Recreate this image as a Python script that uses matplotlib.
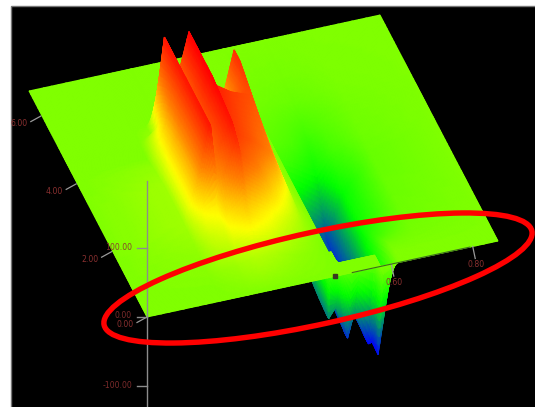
import numpy as np
import matplotlib
matplotlib.use("Agg")
import matplotlib.pyplot as plt
from matplotlib.colors import LinearSegmentedColormap, Normalize
from matplotlib.patches import Ellipse, Rectangle

# ---- data -----------------------------------------------------------------
u_nodes = [0, .21, .25, .285, .295, .345, .355, .40, .46, .52,
           .55, .558, .58, .605, .625, .665, .675, .72, .80, 1]
v_nodes = [0, .15, .24, .30, .33, .37, .42, .52, .69, .74, .80, .86, .88, .90, .95, 1.0]
heights = [
 [0,0,0,0,0,0,0,0,0,0,        0,0,0,0,0,0,0,0,0,0],
 [0,0,0,0,0,0,0,0,0,0,        0,-3,-3,-4,-4,-5,-5,-4,-1,0],
 [0,0,0,0,0,0,0,0,0,0,        0,-6,-7,-8,-9,-10,-11,-9,-3,0],
 [0,0,8,145,50,15,0,0,0,0,    0,-10,-12,-14,-16,-20,-21,-16,-5,0],
 [0,0,25,145,60,156,20,0,0,0, 0,-12,-14,-17,-19,-26,-27,-18,-6,0],
 [0,0,45,145,70,156,40,10,130,0, 0,-16,-18,-21,-24,-36,-38,-22,-7,0],
 [0,5,60,145,80,156,60,20,130,5, 0,-24,-27,-32,-38,-50,-52,-28,-8,0],
 [0,10,70,145,95,156,140,125,113,10, 0,-70,-72,-85,-95,-115,-125,-58,-12,0],
 [0,10,70,145,95,145,125,110,85,10, 0,-90,-85,-110,-100,-135,-135,-50,-10,0],
 [0,8,40,45,70,130,110,90,50,10, 0,-95,-86,-118,-98,-140,-138,-42,-9,0],
 [0,5,22,30,42,65,60,46,26,7, 0,-100,-86,-125,-96,-142,-140,-30,-8,0],
 [0,3,12,15,20,28,28,24,12,4, 0,-103,-87,-128,-95,-144,-142,-15,-5,0],
 [0,3,10,12,16,22,22,18,10,3, 0,-103,-87,-130,-95,-145,-143,-10,-4,0],
 [0,2,6,8,10,15,15,12,6,2,   0,0,-55,-130,-93,-145,-143,-6,-3,0],
 [0,0,2,4,5,8,8,6,3,1,       0,0,0,0,0,0,-145,0,0,0],
 [0,0,0,0,0,0,0,0,0,0,        0,0,0,0,0,0,0,0,0,0],
]
side_ticks = [0.0, 2.0, 4.0, 6.0]
side_labels = ["0.00", "2.00", "4.00", "6.00"]
front_ticks = [0.6, 0.8]
front_labels = ["0.60", "0.80"]
z_ticks = [100.0, 0.0, -100.0]
z_labels = ["100.00", "0.00", "-100.00"]

# ---- projection of the plate onto the picture ------------------------------
ORIGIN = np.array([29.0, 91.0])
E_U = np.array([351.0, -76.0])
E_V = np.array([118.0, 226.0])
Z_PX = 0.69

def project(u, v, z=0.0):
    u, v, z = np.asarray(u, float), np.asarray(v, float), np.asarray(z, float)
    return (ORIGIN[0] + E_U[0]*u + E_V[0]*v,
            ORIGIN[1] + E_U[1]*u + E_V[1]*v - Z_PX*z)

def refine(nodes, n):
    out = [np.linspace(a, b, n, endpoint=False) for a, b in zip(nodes[:-1], nodes[1:])]
    return np.r_[np.concatenate(out), nodes[-1]]

u_nodes_a, v_nodes_a, h = np.array(u_nodes), np.array(v_nodes), np.array(heights, float)
uf, vf = refine(u_nodes_a, 10), refine(v_nodes_a, 10)
tmp = np.array([np.interp(uf, u_nodes_a, row) for row in h])
zf = np.array([np.interp(vf, v_nodes_a, col) for col in tmp.T]).T

Z_MIN, Z_MAX = -145, 156
span = Z_MAX - Z_MIN
stop = lambda z: (z - Z_MIN)/span
cmap = LinearSegmentedColormap.from_list("spec", [
    (stop(-145), (0, 0, 1)),
    (stop(-60), (0, 1, 0)),
    (stop(0), (0.5, 1, 0)),
    (stop(38), (1, 1, 0)),
    (stop(88), (1, 0.5, 0)),
    (stop(156), (1, 0, 0)),
])
norm = Normalize(Z_MIN, Z_MAX)

fig = plt.figure(figsize=(5.35, 4.07), dpi=100, facecolor="white")
ax = fig.add_axes([0, 0, 1, 1])
ax.set_xlim(0, 535); ax.set_ylim(407, 0); ax.axis("off")
ax.add_patch(Rectangle((11, 6), 530, 410, fc="black", ec="#777777", lw=1.0, zorder=0))

# far cells first: rows front-most last, columns right-most first
U, V = np.meshgrid(uf[::-1], vf)
X, Y = project(U, V, zf[:, ::-1])
ax.pcolormesh(X, Y, zf[:, ::-1], shading="gouraud", cmap=cmap, norm=norm, zorder=1)

TC = "#8a3030"; LC = "#9a9a9a"
for val, lab in zip(side_ticks, side_labels):
    x, y = project(0, 1 - val*0.15)
    y = y + (2.5 if val > 0 else 0)
    ax.plot([x, x-10], [y, y+5.5], color=LC, lw=0.9, zorder=3)
    ax.text(x-13, y+7.5, lab, color=TC, fontsize=5.6, ha="right", va="center", zorder=4)
for val, lab in zip(front_ticks, front_labels):
    x, y = project(val*1.16, 1)
    ax.plot([x, x+2.5], [y, y+12], color=LC, lw=0.9, zorder=3)
    ax.text(x+3, y+18.5, lab, color=TC, fontsize=5.6, ha="center", va="center", zorder=4)
x0 = project(0, 1)[0]
ax.plot([x0, x0], [181, 407], color="#8c8c8c", lw=1.0, zorder=3)
for val, lab in zip(z_ticks, z_labels):
    y = 317 - Z_PX*val
    ax.plot([x0-10, x0], [y, y], color="#8c8c8c", lw=1.0, zorder=3)
    ax.text(x0-15, y - (2 if val == 0 else 0), lab, color=TC, fontsize=5.6, ha="right", va="center", zorder=4, alpha=0.9)

# edge line and marker on the plate's front rim
xa, ya = project(.585, 1); xb, yb = project(.92, 1)
ax.plot([xa, xb], [ya, yb], color="#3d6a20", lw=0.8, zorder=3)
mx, my = project(.535, 1)
ax.plot([mx], [my], marker="s", ms=2.6, color="#3a3a20", zorder=3)

ax.add_patch(Ellipse((318, 278), 438, 92, angle=-12.4, fc="none", ec="#ff0000", lw=3.9, zorder=5))
fig.savefig("out.png", dpi=100, facecolor="white")
